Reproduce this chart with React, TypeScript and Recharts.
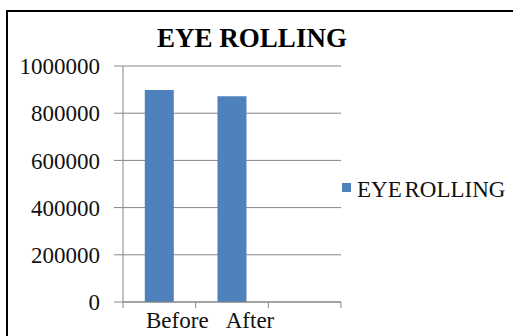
import { BarChart, Bar, CartesianGrid, XAxis, YAxis } from 'recharts';

const categories = ['Before', 'After', ''];
const eyeRolling = [898000, 872000, null];
const yTicks = [0, 200000, 400000, 600000, 800000, 1000000];
const seriesName = 'EYE ROLLING';
const chartTitle = 'EYE ROLLING';

const data = categories.map((name, i) => ({ name, value: eyeRolling[i] }));

const FONT = '"Liberation Serif", "Times New Roman", serif';
const AXIS = '#868686';
const BAR = '#4F81BD';
const X_TICK = 6;
const X_GAP = 4;

function CategoryTick(props: any) {
  const { x, y, payload, index, width, visibleTicksCount } = props;
  const band = width / visibleTicksCount;
  const axisY = y - X_TICK - X_GAP;
  return (
    <g>
      <line x1={x - band / 2} x2={x - band / 2} y1={axisY} y2={axisY + X_TICK} stroke={AXIS} />
      {index === visibleTicksCount - 1 && (
        <line x1={x + band / 2} x2={x + band / 2} y1={axisY} y2={axisY + X_TICK} stroke={AXIS} />
      )}
      <text x={x} y={y} dx={18} dy="0.71em" textAnchor="middle" style={{ fontFamily: FONT }} fontSize={23} fill="#111">
        {payload.value}
      </text>
    </g>
  );
}

export default function App() {
  return (
    <div style={{ position: 'absolute', left: 0, top: 0, width: 513, height: 336, overflow: 'hidden', background: '#fff' }}>
      <div
        style={{
          position: 'absolute',
          left: 6,
          top: 10,
          width: 530,
          height: 360,
          border: '2px solid #000',
        }}
      />
      <div
        style={{
          position: 'absolute',
          left: 0,
          top: 25,
          width: 504,
          textAlign: 'center',
          fontFamily: FONT,
          fontWeight: 'bold',
          fontSize: 27,
          lineHeight: '27px',
          color: '#000',
        }}
      >
        {chartTitle}
      </div>
      <div style={{ position: 'absolute', left: 0, top: 0, fontFamily: FONT }}>
        <BarChart width={513} height={336} data={data} margin={{ top: 66, right: 172, bottom: 0, left: 0 }} barCategoryGap="30%">
          <CartesianGrid vertical={false} stroke={AXIS} />
          <XAxis
            dataKey="name"
            height={34}
            stroke={AXIS}
            tickLine={false}
            tickSize={X_TICK}
            tickMargin={X_GAP}
            interval={0}
            tick={<CategoryTick />}
          />
          <YAxis
            width={123}
            domain={[0, 1000000]}
            ticks={yTicks}
            interval={0}
            stroke={AXIS}
            tickSize={9}
            tickMargin={14}
            tick={{ fontFamily: FONT, fontSize: 23, fill: '#111' }}
          />
          <Bar dataKey="value" name={seriesName} fill={BAR} isAnimationActive={false} />
        </BarChart>
      </div>
      <div style={{ position: 'absolute', left: 342, top: 183, width: 9, height: 9, background: BAR }} />
      <div
        style={{
          position: 'absolute',
          left: 357,
          top: 178,
          fontFamily: FONT,
          fontSize: 23,
          lineHeight: '23px',
          wordSpacing: -3,
          color: '#111',
          whiteSpace: 'nowrap',
        }}
      >
        {seriesName}
      </div>
    </div>
  );
}
